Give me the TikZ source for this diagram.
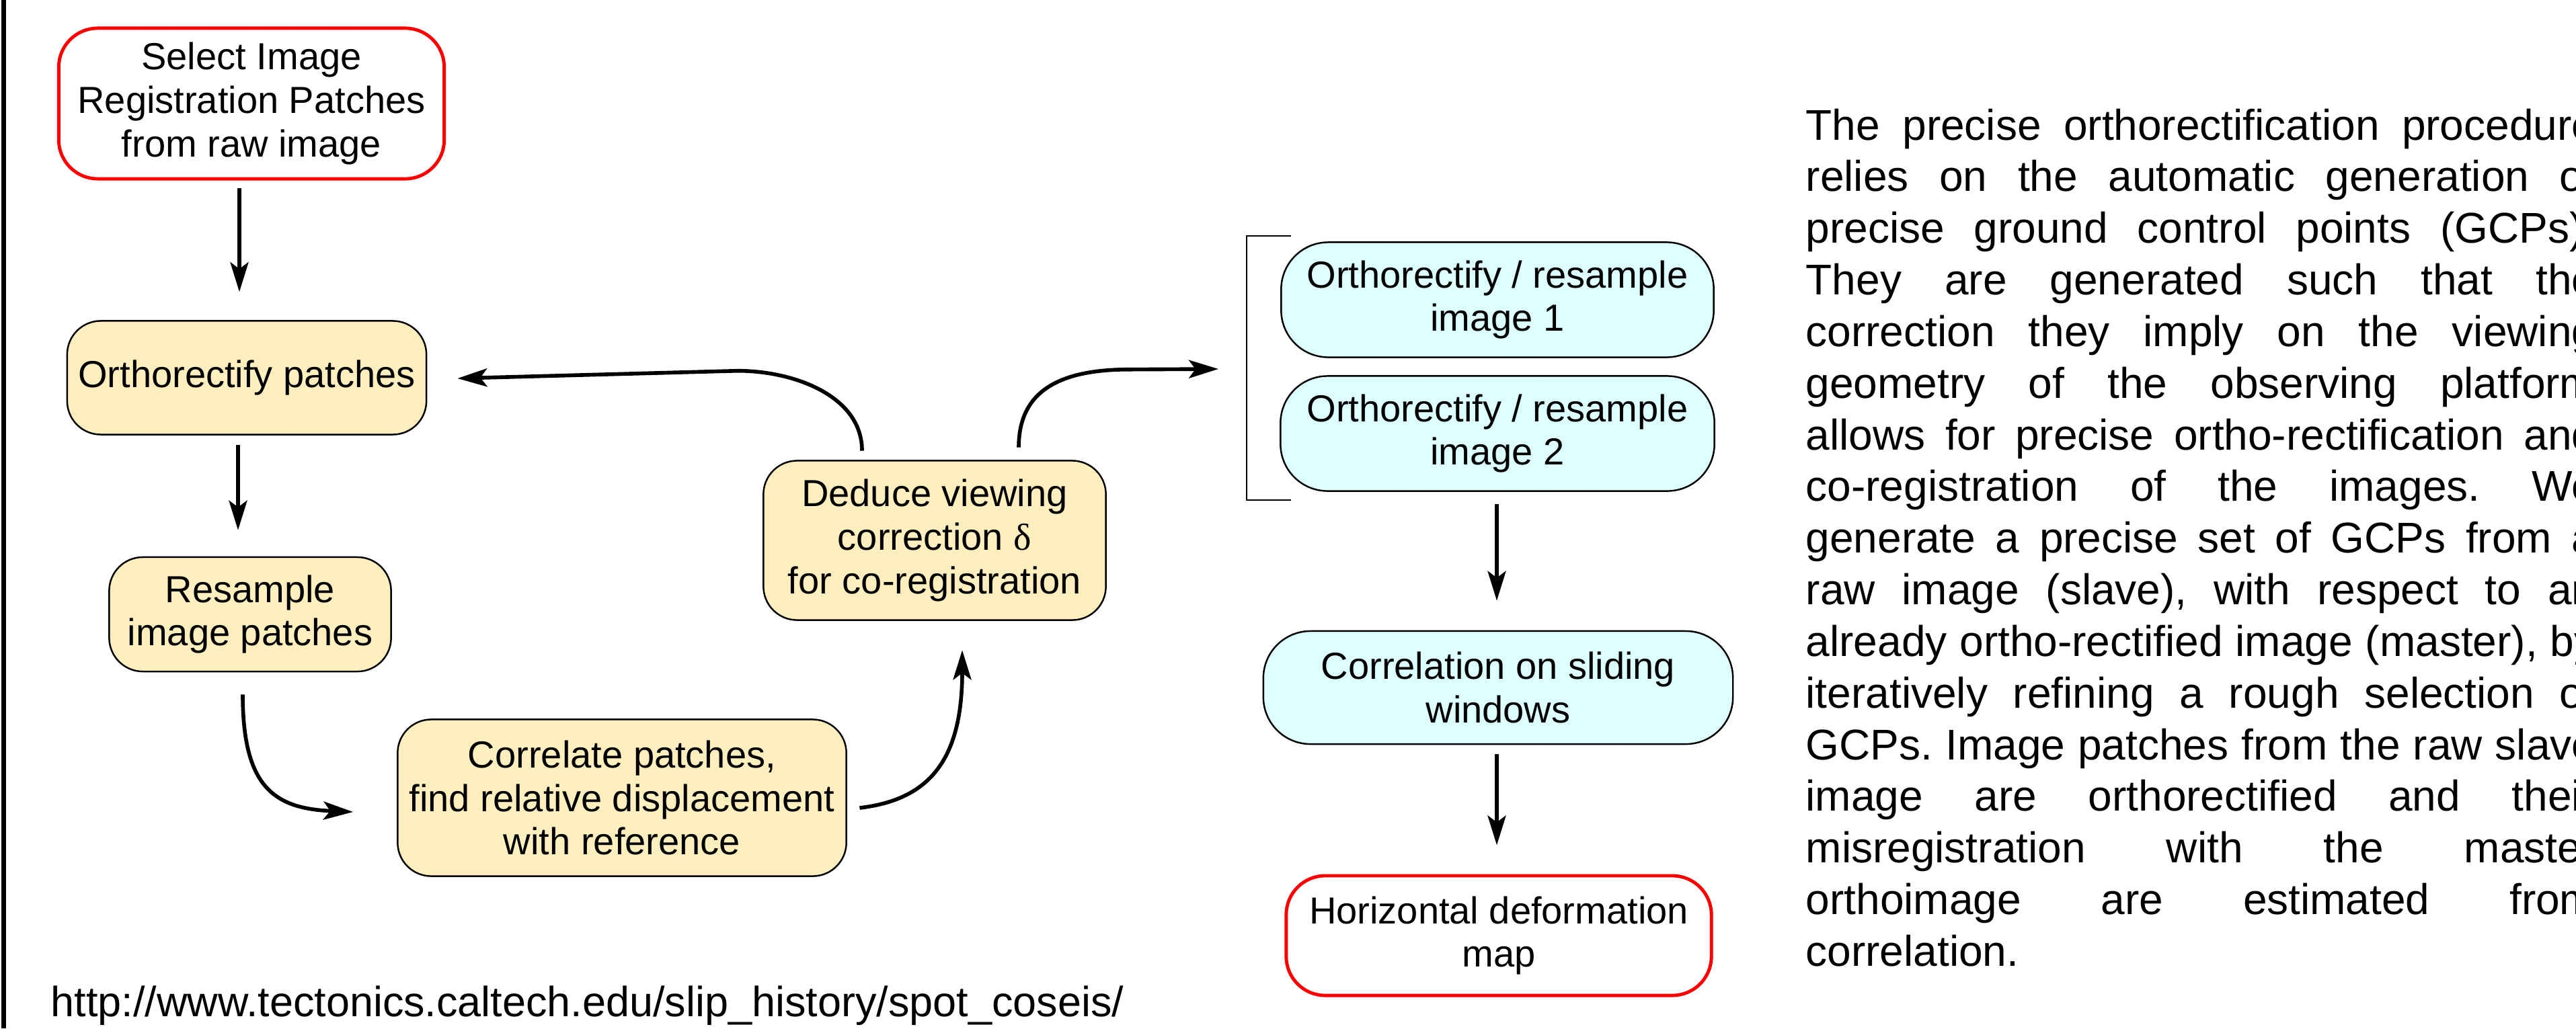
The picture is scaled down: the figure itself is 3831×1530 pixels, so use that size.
\documentclass[tikz,border=0pt]{standalone}
\usepackage{fontspec}
\setmainfont{Liberation Sans}
\newfontfamily\deltafont{Liberation Serif}
\usetikzlibrary{arrows.meta,calc}

\definecolor{stepyellow}{RGB}{255,238,190}
\definecolor{stepcyan}{RGB}{221,255,255}
\definecolor{endred}{RGB}{255,0,0}

% text sizes
\newcommand\flowfont{\fontsize{15.94pt}{18.45pt}\selectfont}
\newcommand\notefont{\fontsize{18.2pt}{21.85pt}\selectfont}
\newcommand\linkfont{\fontsize{17.9pt}{21pt}\selectfont}
\newlength\notewidth
\setlength\notewidth{11.74cm}
\newcommand\jline[1]{\makebox[\notewidth][s]{#1}}
\frenchspacing

\begin{document}
\begin{tikzpicture}[x=0.01cm, y=-0.01cm,
  stepbase/.style={draw, line width=0.7pt, rounded corners=0.5cm, align=center,
                   font=\flowfont, inner sep=0pt},
  proc/.style={stepbase, fill=stepyellow},
  ortho/.style={stepbase, fill=stepcyan, rounded corners=0.7cm},
  term/.style={stepbase, draw=endred, line width=1.4pt, fill=white, rounded corners=0.58cm},
  flow/.style={line width=1.6pt, -{Stealth[length=0.44cm,width=0.27cm,inset=0.1cm]}}]

\useasboundingbox (0,0) rectangle (3831,1530);
\clip (0,0) rectangle (3831,1530);

% left frame rule
\draw[line width=2pt] (5.5,0) -- (5.5,1530);

% left loop: patch registration
\node[term, minimum width=5.73cm, minimum height=2.24cm] (sel) at (374,154)
  {Select Image\\Registration Patches\\from raw image};
\node[proc, minimum width=5.34cm, minimum height=1.69cm] (orp) at (367,562)
  {Orthorectify patches};
\node[proc, minimum width=4.19cm, minimum height=1.70cm] (res) at (372,914)
  {Resample\\image patches};
\node[proc, minimum width=6.67cm, minimum height=2.33cm] (cor) at (925,1187)
  {Correlate patches,\\find relative displacement\\with reference};
\node[proc, minimum width=5.09cm, minimum height=2.37cm] (ded) at (1390,804)
  {Deduce viewing\\correction {\deltafont δ}\\for co-registration};

% right column: processing of the image pair
\node[ortho, minimum width=6.43cm, minimum height=1.71cm] (or1) at (2227,446)
  {Orthorectify / resample\\image 1};
\node[ortho, minimum width=6.45cm, minimum height=1.71cm] (or2) at (2227,645)
  {Orthorectify / resample\\image 2};
\node[ortho, minimum width=6.98cm, minimum height=1.68cm] (slid) at (2228,1023)
  {Correlation on sliding\\windows};
\node[term, minimum width=6.32cm, minimum height=1.78cm] (hdm) at (2229,1392)
  {Horizontal deformation\\map};

% bracket grouping the two resampling steps
\coordinate (brktop) at (1854,351);
\coordinate (brkbot) at (1854,744);
\coordinate (brkmid) at ($(brktop)!0.5!(brkbot)$);
\draw[line width=0.8pt] ($(brktop)+(66,0)$) -- (brktop) -- (brkbot) -- ($(brkbot)+(66,0)$);

% connectors
\draw[flow] ($(sel.south)+(-18,11)$) -- ($(orp.north)+(-11,-42)$);
\draw[flow] ($(orp.south)+(-13,14.5)$) -- ($(res.north)+(-18,-39)$);
\draw[flow] ($(res.south)+(-11,33)$)
  .. controls ($(res.south)+(-11,171)$) and ($(cor.west)+(-182,16)$) .. ($(cor.west)+(-65,21)$);
\draw[flow] ($(cor.east)+(18.5,15)$)
  .. controls ($(cor.east)+(121.5,3)$) and ($(ded.south)+(41,207.5)$) .. ($(ded.south)+(41,43.5)$);
\draw[flow] ($(ded.north)+(-108,-13.5)$)
  .. controls ($(ded.north)+(-108,-95.5)$) and ($(ded.north)+(-210,-132.5)$) .. ($(ded.north)+(-293,-132.5)$)
  -- ($(orp.east)+(45,1)$);
\draw[flow] ($(ded.north)+(125,-18.5)$)
  .. controls ($(ded.north)+(125,-105.5)$) and ($(ded.north)+(190,-134.5)$) .. ($(ded.north)+(290,-134.5)$)
  -- ($(brkmid)+(-42,1.5)$);
\draw[flow] ($(or2.south)+(-1,18.5)$) -- ($(slid.north)+(-2,-44)$);
\draw[flow] ($(slid.south)+(-2,14)$) -- ($(hdm.north)+(-3,-43)$);

% source link
\node[anchor=base west, inner sep=0pt, font=\linkfont] (link) at (75,1512)
  {http://www.tectonics.caltech.edu/slip\_history/spot\_coseis/};

% explanatory paragraph
\node[anchor=base west, inner sep=0pt, font=\notefont] (note) at (2685,208)
  {\begin{tabular}[t]{@{}l@{}}
   \jline{The precise orthorectification procedure}\\
   \jline{relies on the automatic generation of}\\
   \jline{precise ground control points (GCPs).}\\
   \jline{They are generated such that the}\\
   \jline{correction they imply on the viewing}\\
   \jline{geometry of the observing platform}\\
   \jline{allows for precise ortho-rectification and}\\
   \jline{co-registration of the images. We}\\
   \jline{generate a precise set of GCPs from a}\\
   \jline{raw image (slave), with respect to an}\\
   \jline{already ortho-rectified image (master), by}\\
   \jline{iteratively refining a rough selection of}\\
   \jline{GCPs. Image patches from the raw slave}\\
   \jline{image are orthorectified and their}\\
   \jline{misregistration with the master}\\
   \jline{orthoimage are estimated from}\\
   correlation.
   \end{tabular}};
\end{tikzpicture}
\end{document}
